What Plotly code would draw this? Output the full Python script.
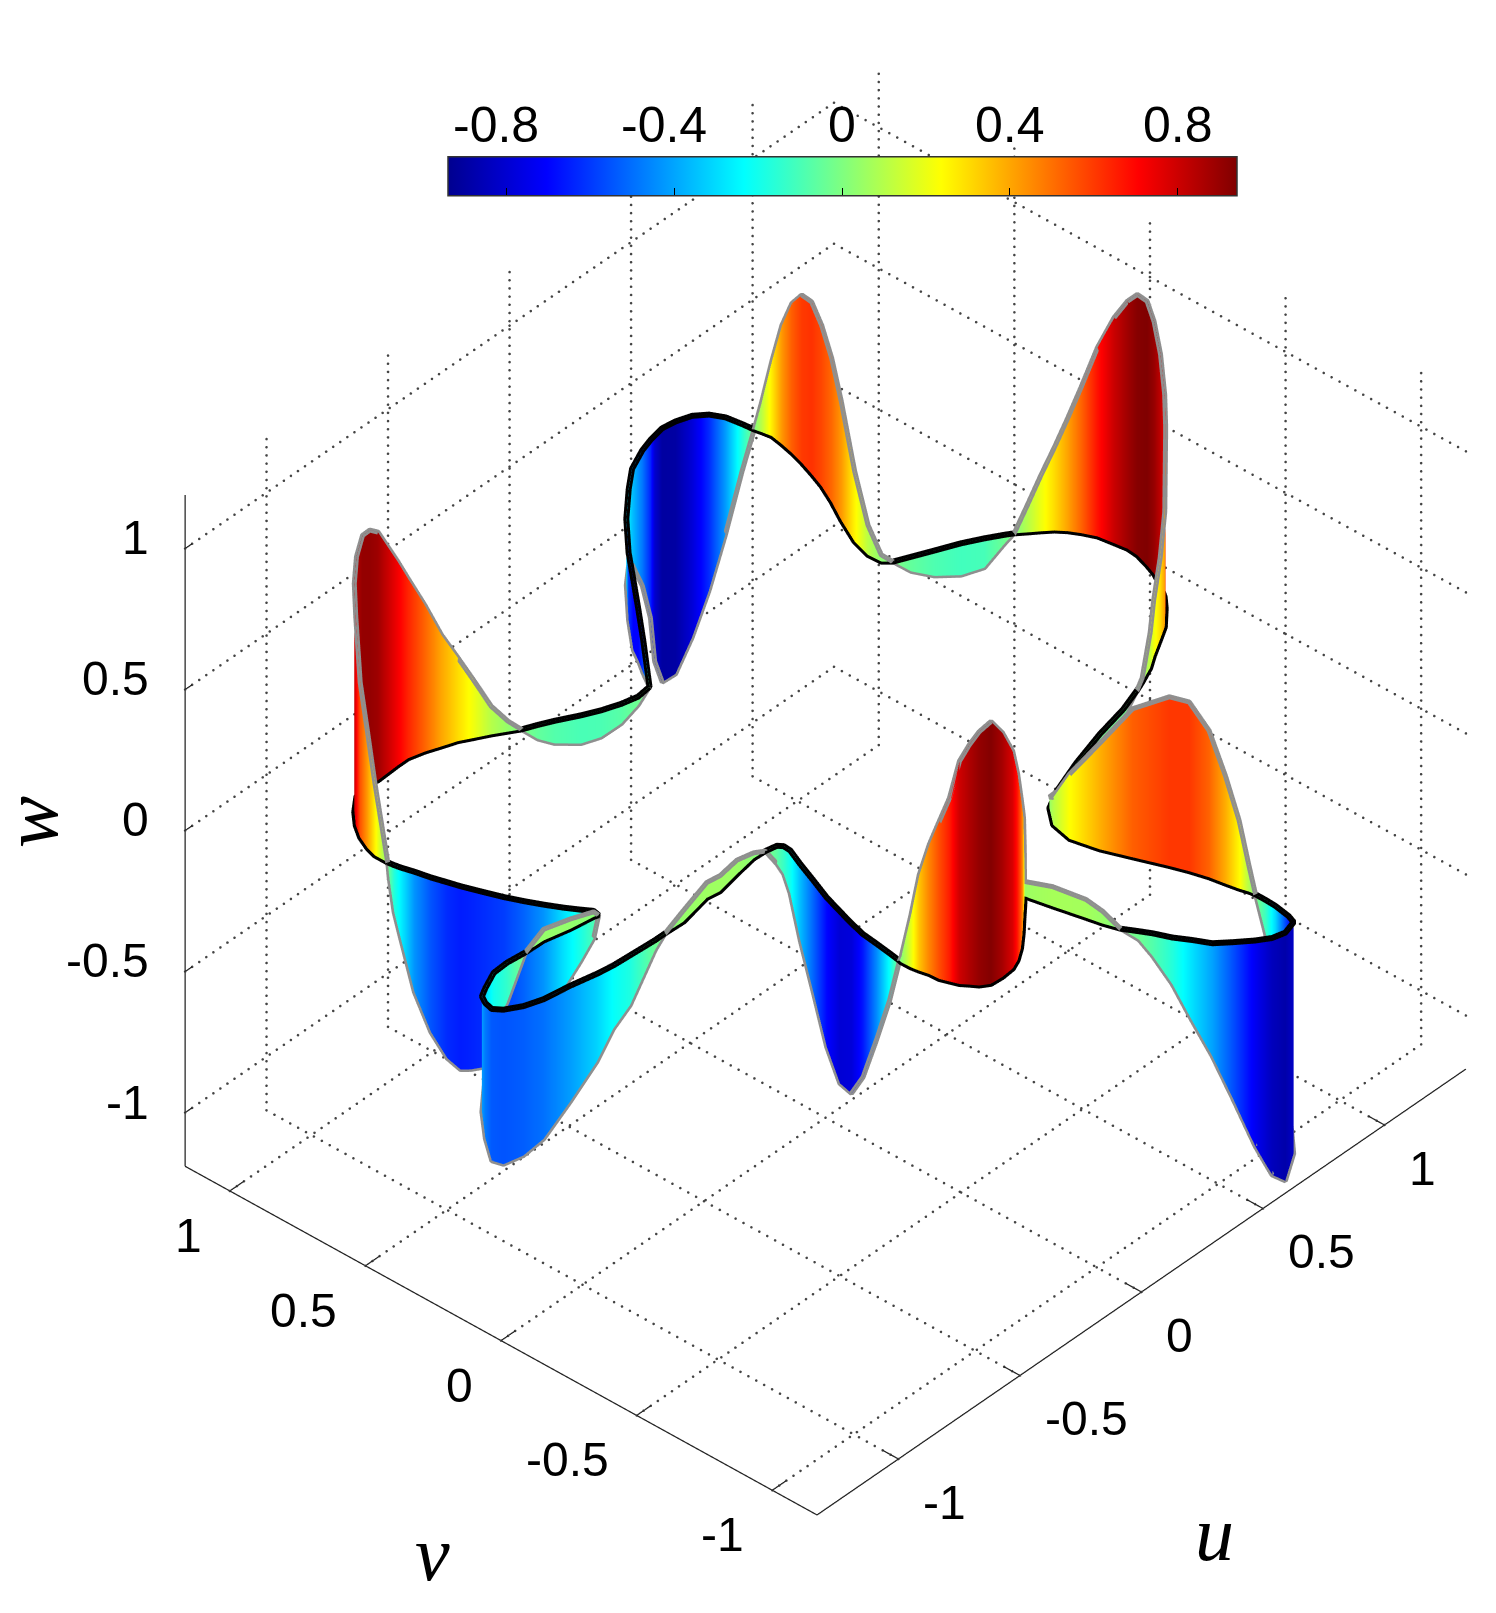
import numpy as np
import plotly.graph_objects as go

# Closed ribbon: position along the curve and signed height
u_read = [-1.069,-1.069,-1.058,-1.036,-1.004,-.962,-.906,-.871,-.840,-.813,-.726,-.684,-.632,-.584,-.536,-.495,-.453,-.413,-.381,-.336,-.292,-.225,-.172,-.113,-.059,-.005,
 .140,.232,.323,.404,.512,.617,.690,.770,.819,.841,.880,.927,.976,1.011,1.032,1.040,1.044,
 1.049,1.054,1.046,1.035,1.020,1.001,.978,.944,.901,.854,.834,.836,.857,.907,.970,1.043,1.102,1.150,1.173,
 1.201,1.229,1.256,1.278,1.296,1.315,1.323,1.329,1.325,1.309,1.294,1.266,1.236,1.200,1.136,1.087,1.019,.973,.911,.874,
 .786,.661,.522,.389,.321,.273,.256,.276,.310,.348,.367,.383,.392,.400,.408,.411,.411,.409,.399,.388,.338,.296,.257,.209,.169,.143,.115,.093,.075,.050,
 .034,.023,.000,-.018,-.047,-.087,-.144,-.198,-.243,-.280,-.327,-.371,-.398,-.413,-.429,-.439,-.449,-.451,-.458,-.462,-.463,-.461,
 -.454,-.446,-.439,-.424,-.405,-.383,-.351,-.320,-.293,-.291,-.302,-.341,-.387,-.470,-.557,-.604,-.725,-.798,
 -.839,-.935,-.999,-1.058,-1.147,-1.240,-1.300,-1.348,-1.367,-1.359,-1.343,-1.308,-1.243,-1.185,-1.117,-1.044,-.956,-.874,-.859,
 -.854,-.874,-.898,-.924,-.949,-.972,-.992,-1.005,-1.015,-1.026,-1.040,-1.051,-1.062,-1.066,-1.068]
v_read = [.656,.704,.740,.787,.832,.875,.917,.926,.927,.921,.925,.925,.911,.892,.874,.850,.826,.800,.779,.759,.737,.699,.673,.651,.638,.644,
 .797,.897,.997,1.087,1.192,1.277,1.330,1.364,1.378,1.382,1.389,1.382,1.365,1.334,1.292,1.238,1.197,
 1.173,1.141,1.097,1.050,1.000,.947,.889,.822,.748,.657,.590,.543,.519,.496,.467,.434,.401,.371,.355,
 .330,.306,.281,.252,.219,.175,.121,.077,.037,-.013,-.052,-.101,-.143,-.179,-.233,-.260,-.297,-.325,-.351,-.365,
 -.393,-.419,-.457,-.502,-.537,-.594,-.670,-.762,-.854,-.955,-1.011,-1.070,-1.123,-1.165,-1.194,-1.216,-1.253,-1.291,-1.349,-1.377,-1.391,-1.380,-1.353,-1.311,-1.273,-1.222,-1.174,-1.121,-1.087,-1.042,
 -.990,-.939,-.836,-.749,-.774,-.807,-.855,-.897,-.925,-.940,-.944,-.941,-.922,-.899,-.877,-.849,-.821,-.786,-.755,-.729,-.693,-.685,
 -.642,-.586,-.531,-.475,-.415,-.347,-.270,-.193,-.132,-.106,-.091,-.083,-.081,-.094,-.110,-.103,-.126,-.123,
 -.123,-.117,-.113,-.104,-.085,-.071,-.050,-.020,.006,.037,.064,.082,.110,.113,.106,.104,.084,.072,.067,
 .090,.121,.161,.210,.262,.315,.370,.407,.436,.475,.523,.574,.614,.635,.651]
w_height = [0,.26,.41,.55,.74,.81,.85,.90,.90,.88,.72,.636,.52,.395,.295,.20,.10,.037,0,-.05,-.08,-.10,-.095,-.07,-.03,0,
 -.118,-.18,-.25,-.24,-.235,-.27,-.34,-.48,-.63,-.80,-.90,-.895,-.786,-.624,-.415,-.167,0,
 .11,.265,.42,.53,.595,.61,.57,.51,.42,.25,.106,.024,0,-.052,-.09,-.113,-.104,-.033,0,
 .10,.20,.295,.40,.516,.67,.80,.878,.925,.937,.895,.82,.72,.64,.41,.29,.20,.126,.015,0,
 -.03,-.03,-.01,0,.04,.097,.23,.375,.527,.60,.60,.52,.38,.243,.094,0,-.12,-.30,-.65,-.82,-.88,-.84,-.73,-.55,-.40,-.286,-.165,-.08,-.03,0,
 .044,.065,.07,.053,.20,.35,.435,.535,.66,.77,.866,.93,.90,.85,.79,.65,.56,.46,.34,.19,.02,0,
 -.168,-.344,-.507,-.603,-.61,-.53,-.40,-.27,-.153,-.098,-.064,0,.02,.05,.055,.055,.04,0,
 -.035,-.177,-.224,-.312,-.412,-.495,-.53,-.548,-.538,-.48,-.41,-.30,-.20,-.14,0,.04,.035,.018,0,
 -.098,-.185,-.286,-.426,-.52,-.59,-.62,-.64,-.65,-.624,-.548,-.426,-.253,-.167,-.056]
loop_colour = [-.6, -.7, -.7, -.6, -.3]        # samples 26..30
lobe_colour = [-.22, -.45, -.66, -.78, -.79, -.69, -.52, -.35, -.2, -.13]  # samples 134..143

tick_values = [-1, -0.5, 0, 0.5, 1]
tick_labels = ["-1", "-0.5", "0", "0.5", "1"]
cbar_values = [-0.8, -0.4, 0, 0.4, 0.8]
cbar_labels = ["-0.8", "-0.4", "0", "0.4", "0.8"]
jet = [[0, "rgb(0,0,143)"], [0.125, "rgb(0,0,255)"], [0.375, "rgb(0,255,255)"],
       [0.625, "rgb(255,255,0)"], [0.875, "rgb(255,0,0)"], [1, "rgb(128,0,0)"]]
U_LIM, V_LIM, W_LIM = 1.335, 1.165, 1.19
C_LIM = 0.94
DOT_STEP = 0.0285
TICK_LEN = 0.06
CB_X, CB_LEN = 0.5575, 0.5277
CB_TOP, CB_BOTTOM = 156.5 / 1613, 195.5 / 1613
SCALE_UV, SCALE_W = 0.941, 0.925

ur, vr, wh = (np.array(a + a[:1], dtype=float) for a in (u_read, v_read, w_height))
colour = wh.copy()
colour[26:31] = loop_colour
colour[134:144] = lobe_colour
# The base curve is not level: it slopes inside the box
t = 0.17 * vr + 0.05 * ur - 0.03
u = ur - 1.123 * t
v = vr - t
base = 1.18 * t
top = base + wh

fig = go.Figure()

# dotted grid on floor and two back walls
gx, gy, gz = [], [], []
def seg(a, b):
    a, b = np.array(a, float), np.array(b, float)
    n = max(2, int(np.linalg.norm(b - a) / DOT_STEP))
    for f in np.linspace(0, 1, n):
        p = a + (b - a) * f
        gx.append(p[0]); gy.append(p[1]); gz.append(p[2])
for k in tick_values:
    seg((k, -V_LIM, -W_LIM), (k, V_LIM, -W_LIM))
    seg((-U_LIM, k, -W_LIM), (U_LIM, k, -W_LIM))
    seg((k, V_LIM, -W_LIM), (k, V_LIM, W_LIM))
    seg((U_LIM, k, -W_LIM), (U_LIM, k, W_LIM))
    seg((-U_LIM, V_LIM, k), (U_LIM, V_LIM, k))
    seg((U_LIM, -V_LIM, k), (U_LIM, V_LIM, k))
fig.add_trace(go.Scatter3d(x=gx, y=gy, z=gz, mode="markers", showlegend=False, hoverinfo="skip",
                           marker=dict(color="#444444", size=1.5, line=dict(width=0))))

# axis lines with inward ticks
ax, ay, az = [], [], []
def line(a, b):
    ax.extend([a[0], b[0], None]); ay.extend([a[1], b[1], None]); az.extend([a[2], b[2], None])
line((-U_LIM, -V_LIM, -W_LIM), (U_LIM, -V_LIM, -W_LIM))
line((-U_LIM, -V_LIM, -W_LIM), (-U_LIM, V_LIM, -W_LIM))
line((-U_LIM, V_LIM, -W_LIM), (-U_LIM, V_LIM, W_LIM))
for k in tick_values:
    line((k, -V_LIM, -W_LIM), (k, -V_LIM + TICK_LEN, -W_LIM))
    line((-U_LIM, k, -W_LIM), (-U_LIM + TICK_LEN, k, -W_LIM))
    line((-U_LIM, V_LIM, k), (-U_LIM + TICK_LEN / 2, V_LIM, k))
fig.add_trace(go.Scatter3d(x=ax, y=ay, z=az, mode="lines", showlegend=False, hoverinfo="skip",
                           line=dict(color="#222222", width=2.5)))

fig.add_trace(go.Surface(
    x=np.vstack([u, u]), y=np.vstack([v, v]), z=np.vstack([base, top]),
    surfacecolor=np.vstack([colour, colour]), colorscale=jet, cmin=-C_LIM, cmax=C_LIM,
    lighting=dict(ambient=1, diffuse=0, specular=0, fresnel=0, roughness=1),
    hoverinfo="skip",
    colorbar=dict(orientation="h", x=CB_X, xanchor="center", y=0.893, yanchor="middle",
                  lenmode="fraction", len=CB_LEN, thickness=39, thicknessmode="pixels",
                  xpad=0, ypad=0,
                  outlinewidth=1.5, outlinecolor="#333333", ticks="inside", ticklen=8, tickcolor="black",
                  tickvals=cbar_values, showticklabels=False),
))
fig.add_trace(go.Scatter3d(x=u, y=v, z=top, mode="lines", showlegend=False, hoverinfo="skip",
                           line=dict(color="#8f8f8f", width=10)))
fig.add_trace(go.Scatter3d(x=u, y=v, z=base, mode="lines", showlegend=False, hoverinfo="skip",
                           line=dict(color="black", width=12)))

def axis(lim):
    return dict(range=[-lim, lim], tickvals=tick_values, showticklabels=False, showgrid=False,
                showbackground=False, showline=False, zeroline=False,
                ticks="", showspikes=False, title=dict(text=""))

tick_font = dict(family="Liberation Sans", size=48, color="black")
scene_notes = []
for val, lab in zip(tick_values, tick_labels):
    scene_notes.append(dict(x=val, y=-V_LIM, z=-W_LIM, text=lab, showarrow=False, font=tick_font,
                            xanchor="left", yanchor="middle", xshift=23, yshift=-43))
    scene_notes.append(dict(x=-U_LIM, y=val, z=-W_LIM, text=lab, showarrow=False, font=tick_font,
                            xanchor="right", yanchor="middle", xshift=-26, yshift=-44))
    scene_notes.append(dict(x=-U_LIM, y=V_LIM, z=val, text=lab, showarrow=False, font=tick_font,
                            xanchor="right", yanchor="middle", xshift=-34, yshift=11))

title_font = dict(family="Liberation Serif", size=78, color="black")
paper_notes = [
    dict(text="<i>u</i>", x=1206/1496, y=1-1525/1613, xref="paper", yref="paper", showarrow=False,
         xanchor="center", yanchor="middle", font=title_font),
    dict(text="<i>v</i>", x=424/1496, y=1-1545/1613, xref="paper", yref="paper", showarrow=False,
         xanchor="center", yanchor="middle", font=title_font),
    dict(text="<i>w</i>", x=22/1496, y=1-814/1613, xref="paper", yref="paper", showarrow=False, textangle=-90,
         xanchor="center", yanchor="middle", font=title_font),
]
cbar_shapes = []
for val, lab in zip(cbar_values, cbar_labels):
    xpos = CB_X + CB_LEN * val / (2 * C_LIM)
    paper_notes.append(dict(text=lab, x=xpos, y=1 - 117/1613, xref="paper", yref="paper",
                            showarrow=False, xanchor="center", yanchor="middle",
                            xshift=-10 if val < 0 else 0,
                            font=dict(family="Liberation Sans", size=50, color="black")))
    cbar_shapes.append(dict(type="line", xref="paper", yref="paper", x0=xpos, x1=xpos,
                            y0=1 - CB_TOP, y1=1 - CB_TOP - 8/1613, line=dict(color="black", width=1)))

fig.update_layout(
    width=1496, height=1613, margin=dict(l=0, r=0, t=0, b=0), paper_bgcolor="white",
    font=dict(family="Liberation Sans", color="black"),
    scene=dict(
        domain=dict(x=[0.0928, 1], y=[0.04, 1]),
        xaxis=axis(U_LIM), yaxis=axis(V_LIM), zaxis=axis(W_LIM),
        aspectmode="manual",
        aspectratio=dict(x=U_LIM*SCALE_UV, y=V_LIM*SCALE_UV, z=W_LIM*SCALE_W),
        camera=dict(projection=dict(type="orthographic"), up=dict(x=0, y=0, z=1),
                    center=dict(x=0, y=0, z=0), eye=dict(x=-0.587*2, y=-0.526*2, z=0.616*2)),
        annotations=scene_notes,
    ),
    annotations=paper_notes,
    shapes=cbar_shapes,
)
fig.write_html("out.html")
